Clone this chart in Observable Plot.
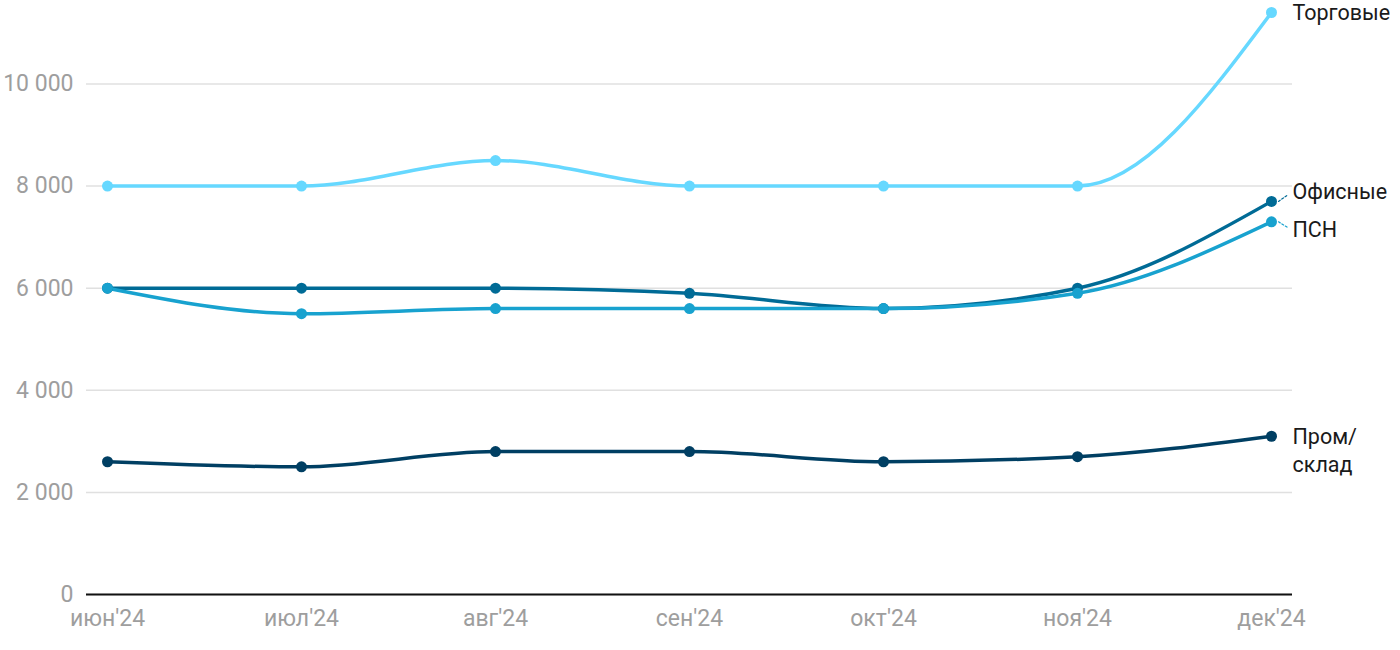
<!DOCTYPE html>
<html><head><meta charset="utf-8">
<script src="https://cdn.jsdelivr.net/npm/d3@7"></script>
<script src="https://cdn.jsdelivr.net/npm/@observablehq/plot@0.6"></script>
<style>
body{margin:0;background:#fff;font-family:Roboto,"Noto Sans",sans-serif;}
</style></head>
<body><div id="chart"></div>
<script>
const months = ["июн'24","июл'24","авг'24","сен'24","окт'24","ноя'24","дек'24"];
const seriesNames = ["Торговые","Офисные","ПСН","Пром/склад"];
const trade = [8000, 8000, 8500, 8000, 8000, 8000, 11400];
const office = [6000, 6000, 6000, 5900, 5600, 6000, 7700];
const psn = [6000, 5500, 5600, 5600, 5600, 5900, 7300];
const industrial = [2600, 2500, 2800, 2800, 2600, 2700, 3100];
const colors = ["#66d8ff", "#006b96", "#18a2cf", "#003f63"];
const yTicks = [0, 2000, 4000, 6000, 8000, 10000];
const labelText = ["Торговые","Офисные","ПСН","Пром/\nсклад"];
const labelDy = [-1, -11, 6, 13];

const values = [trade, office, psn, industrial];
const data = [];
seriesNames.forEach((s, i) => months.forEach((m, j) => data.push({series: s, month: m, value: values[i][j]})));
const last = seriesNames.map((s, i) => ({series: s, month: months[months.length-1], value: values[i][months.length-1], label: labelText[i]}));
const fmt = d => d3.format(",")(d).replace(/,/g, "\u00a0");

const labelMarks = last.map((d, i) => Plot.text([d], {x: "month", y: "value", text: "label", dx: 21, dy: labelDy[i], textAnchor: "start", fill: "#1a1a1a", fontSize: 21.5, lineHeight: 1.3}));

const chart = Plot.plot({
  width: 1400, height: 650,
  marginLeft: 86, marginRight: 108, marginTop: 12, marginBottom: 56,
  style: {fontFamily: "Roboto, sans-serif", fontSize: "23px", background: "#fff"},
  x: {type: "point", domain: months, padding: 0.1, label: null},
  y: {domain: [0, 11400], label: null},
  color: {domain: seriesNames, range: colors},
  marks: [
    Plot.gridY(yTicks, {stroke: "#e0e0e0", strokeOpacity: 1, strokeWidth: 1.5}),
    Plot.axisY(yTicks, {tickSize: 0, tickPadding: 13, tickFormat: fmt, fill: "#9e9e9e", fontSize: 23, label: null}),
    Plot.axisX({tickSize: 0, tickPadding: 15, fill: "#9e9e9e", fontSize: 23, label: null}),
    Plot.ruleY([0], {stroke: "#111", strokeWidth: 2}),
    Plot.line(data, {x: "month", y: "value", z: "series", stroke: "series", strokeWidth: 3.5, curve: "monotone-x"}),
    Plot.dot(data, {x: "month", y: "value", fill: "series", r: 5.5}),
    Plot.vector(last.filter(d => d.series === "Офисные" || d.series === "ПСН"), {
      x: "month", y: "value", length: 10, dx: 7, anchor: "start",
      rotate: d => d.series === "Офисные" ? 55 : 122,
      stroke: "series", strokeWidth: 1.2, strokeDasharray: "2,2",
      shape: {draw(context, l) { context.moveTo(0, 0); context.lineTo(0, -l); }}
    }),
    ...labelMarks
  ]
});
document.getElementById("chart").appendChild(chart);
</script></body></html>
